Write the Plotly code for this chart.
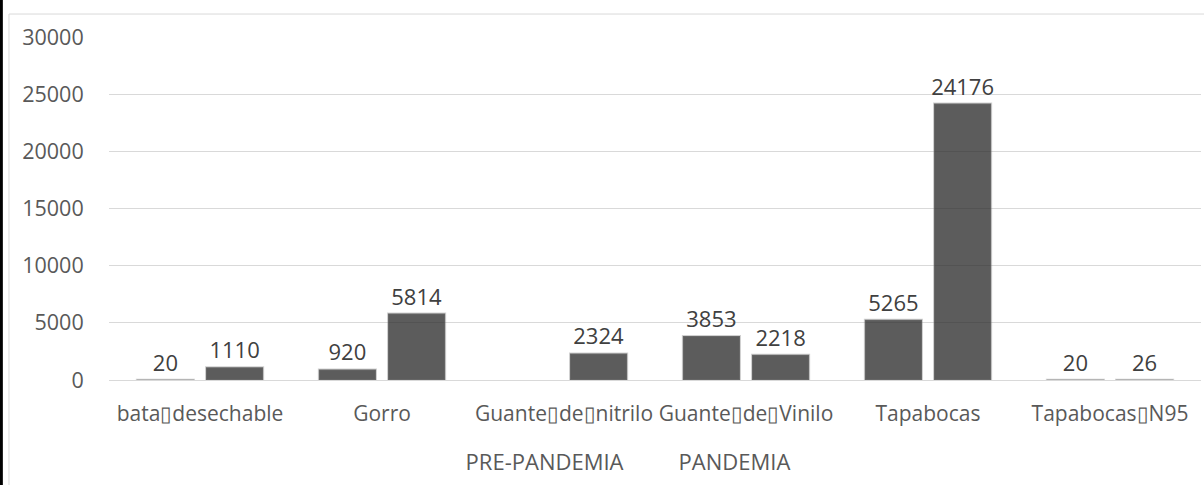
import plotly.graph_objects as go

# Insumos de protección: consumo antes y durante la pandemia
categorias = [
    "bata\u25afdesechable",
    "Gorro",
    "Guante\u25afde\u25afnitrilo",
    "Guante\u25afde\u25afVinilo",
    "Tapabocas",
    "Tapabocas\u25afN95",
]
pre_pandemia = [20, 920, None, 3853, 5265, 20]
pandemia = [1110, 5814, 2324, 2218, 24176, 26]
series_nombres = ["PRE-PANDEMIA", "PANDEMIA"]

y_ticks = [0, 5000, 10000, 15000, 20000, 25000, 30000]
y_tick_text = [str(v) for v in y_ticks]

FONT = "Open Sans"
TXT = "#595959"
LBL = "#404040"
BAR_FILL = "rgba(38,38,38,0.75)"
BAR_EDGE = "rgba(120,120,120,0.35)"

fig = go.Figure()

for nombre, valores in zip(series_nombres, [pre_pandemia, pandemia]):
    fig.add_trace(go.Bar(
        x=categorias,
        y=valores,
        name=nombre,
        showlegend=False,
        marker=dict(color=BAR_FILL, line=dict(color=BAR_EDGE, width=2)),
        text=[("" if v is None else str(v)) for v in valores],
        textposition="outside",
        constraintext="none",
        textfont=dict(family=FONT, size=22, color=LBL),
        cliponaxis=False,
        hoverinfo="skip",
    ))

# Legend entries carry only the series names (no colour swatch)
for nombre in series_nombres:
    fig.add_trace(go.Scatter(
        x=[None], y=[None], mode="markers", name=nombre,
        marker=dict(color="rgba(0,0,0,0)", size=1),
    ))

# Outer frame and dark left edge
fig.add_shape(type="rect", xref="paper", yref="paper",
              x0=-0.0916, x1=1.2, y0=-0.4, y1=1.067,
              line=dict(color="#d9d9d9", width=1), fillcolor="rgba(0,0,0,0)",
              layer="below")
fig.add_shape(type="rect", xref="paper", yref="paper",
              x0=-0.0999, x1=-0.0972, y0=-0.4, y1=1.2,
              line=dict(width=0), fillcolor="#000000")

fig.update_layout(
    width=1204, height=485,
    margin=dict(l=109, r=3, t=37, b=105, autoexpand=False),
    paper_bgcolor="white", plot_bgcolor="white",
    barmode="group", bargap=0.24, bargroupgap=0.174,
    font=dict(family=FONT, size=21, color=TXT),
    legend=dict(orientation="h", x=0.485, xanchor="center",
                y=-0.239, yanchor="middle",
                font=dict(family=FONT, size=22, color=TXT),
                itemwidth=30, entrywidth=168, traceorder="normal"),
    xaxis=dict(
        type="category", automargin=False, tickangle=0,
        showgrid=False, showline=False, zeroline=False,
        ticks="outside", ticklen=15, tickcolor="rgba(0,0,0,0)",
        tickfont=dict(family=FONT, size=21, color=TXT),
    ),
    yaxis=dict(
        range=[0, 30000], tickvals=y_ticks, ticktext=y_tick_text,
        automargin=False,
        showgrid=True, gridcolor="#d9d9d9", gridwidth=1,
        zeroline=True, zerolinecolor="#d9d9d9", zerolinewidth=1,
        showline=False,
        ticks="outside", ticklen=20, tickcolor="rgba(0,0,0,0)",
        tickfont=dict(family=FONT, size=21.5, color=TXT),
    ),
)

fig.write_html("out.html")
